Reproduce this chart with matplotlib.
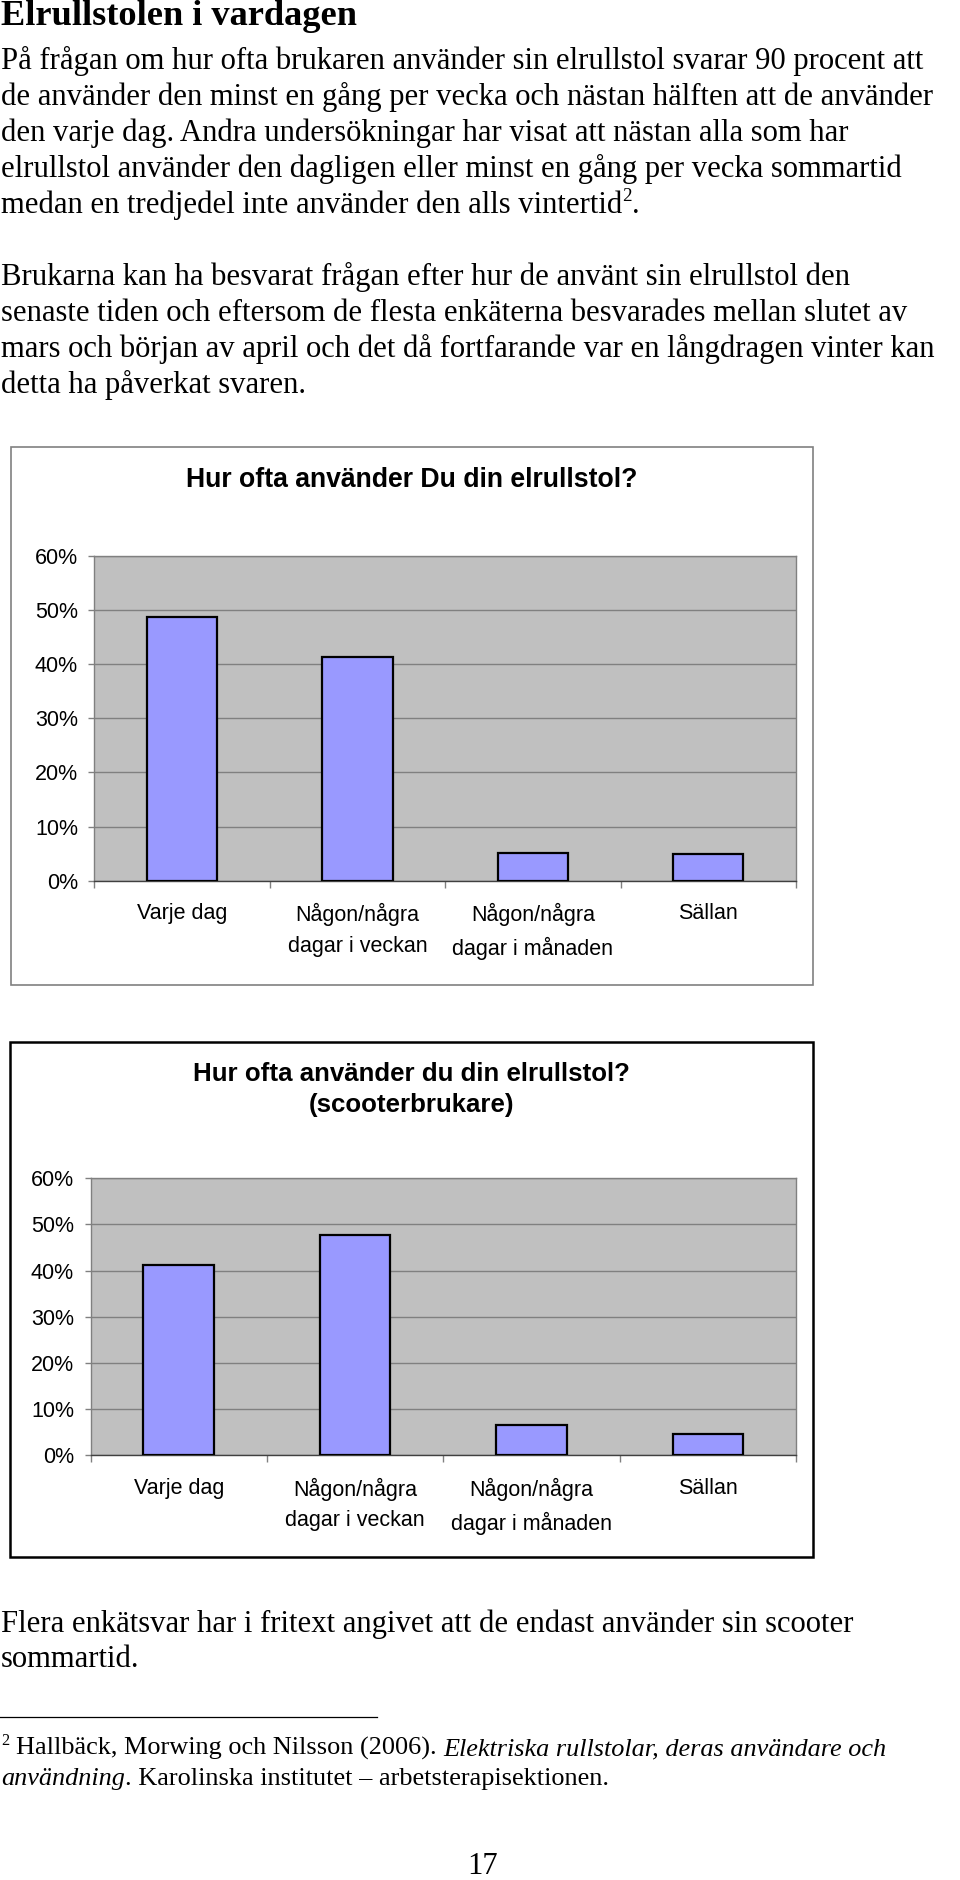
import matplotlib
matplotlib.use("Agg")
import matplotlib.pyplot as plt
from matplotlib.transforms import IdentityTransform
from matplotlib.patches import Rectangle
from matplotlib.lines import Line2D
from matplotlib.ticker import FuncFormatter

# ---------------- data ----------------
heading = "Elrullstolen i vardagen"
para1 = [
    "På frågan om hur ofta brukaren använder sin elrullstol svarar 90 procent att",
    "de använder den minst en gång per vecka och nästan hälften att de använder",
    "den varje dag. Andra undersökningar har visat att nästan alla som har",
    "elrullstol använder den dagligen eller minst en gång per vecka sommartid",
    "medan en tredjedel inte använder den alls vintertid",
]
para2 = [
    "Brukarna kan ha besvarat frågan efter hur de använt sin elrullstol den",
    "senaste tiden och eftersom de flesta enkäterna besvarades mellan slutet av",
    "mars och början av april och det då fortfarande var en långdragen vinter kan",
    "detta ha påverkat svaren.",
]
after_text = [
    "Flera enkätsvar har i fritext angivet att de endast använder sin scooter",
    "sommartid.",
]
footnote_mark = "2"
footnote_plain = "Hallbäck, Morwing och Nilsson (2006)."
footnote_italic1 = "Elektriska rullstolar, deras användare och"
footnote_italic2 = "användning"
footnote_rest = ". Karolinska institutet – arbetsterapisektionen."
page_number = "17"

categories = ["Varje dag", "Någon/några\ndagar i veckan",
              "Någon/några\ndagar i månaden", "Sällan"]
chart1_title = "Hur ofta använder Du din elrullstol?"
chart1_values = [48.8, 41.3, 5.2, 4.9]
chart2_title = "Hur ofta använder du din elrullstol?\n(scooterbrukare)"
chart2_values = [41.1, 47.7, 6.6, 4.6]
y_ticks = [0, 10, 20, 30, 40, 50, 60]

# ---------------- layout ----------------
W, H, DPI = 960, 1880, 100
fig = plt.figure(figsize=(W / DPI, H / DPI), dpi=DPI)
fig.patch.set_facecolor("white")
renderer = fig.canvas.get_renderer()
ID = IdentityTransform()
SERIF = ["Liberation Serif", "DejaVu Serif"]
SANS = ["Liberation Sans", "DejaVu Sans"]


def Y(y):
    return H - y


def put(x, y, s, size, family=SERIF, **kw):
    return fig.text(x, Y(y), s, transform=ID, fontsize=size, family=family,
                    va="baseline", ha=kw.pop("ha", "left"), **kw)


def wid(t):
    return t.get_window_extent(renderer).width


def fit(s, target, base=20.0, **kw):
    t = put(0, 0, s, base, **kw)
    w = wid(t)
    t.remove()
    return base * target / w


def space_w(size, **kw):
    a = put(0, 0, "x x", size, **kw)
    b = put(0, 0, "xx", size, **kw)
    w = wid(a) - wid(b)
    a.remove(); b.remove()
    return w


def runs(x, y, segs, size):
    """segs: list of (text, kind) where kind in normal/italic/sup/space"""
    for s, kind in segs:
        if kind == "space":
            x += space_w(size)
            continue
        if kind == "sup":
            t = put(x, y - 0.38 * size * DPI / 72, s, size * 0.62)
        elif kind == "italic":
            t = put(x, y, s, size, style="italic")
        else:
            t = put(x, y, s, size)
        x += wid(t)
    return x


# heading
hs = fit(heading, 356, fontweight="bold")
put(1, 25, heading, hs, fontweight="bold")

# body
bs = fit(para1[0], 922)
for i, line in enumerate(para1):
    yb = 69 + i * 36
    if i == len(para1) - 1:
        runs(1, yb, [(line, "normal"), ("2", "sup"), (".", "normal")], bs)
    else:
        put(1, yb, line, bs)
for i, line in enumerate(para2):
    put(1, 285 + i * 36, line, bs)


# ---------------- charts ----------------
def chart(box, plot, title, title_base, title_size, values, box_color, box_lw):
    bx0, by0, bx1, by1 = box
    fig.add_artist(Rectangle((bx0 / W, 1 - by1 / H), (bx1 - bx0) / W,
                             (by1 - by0) / H, transform=fig.transFigure,
                             fill=False, edgecolor=box_color,
                             linewidth=box_lw, zorder=0))
    px0, py0, px1, py1 = plot
    ax = fig.add_axes([px0 / W, 1 - py1 / H, (px1 - px0) / W,
                       (py1 - py0) / H])
    ax.set_facecolor("#C0C0C0")
    xs = list(range(len(categories)))
    ax.bar(xs, values, width=0.4, color="#9999FF", edgecolor="black",
           linewidth=1.6, zorder=3)
    ax.set_xlim(-0.5, len(categories) - 0.5)
    ax.set_ylim(0, 60)
    ax.set_yticks(y_ticks)
    ax.yaxis.set_major_formatter(FuncFormatter(lambda v, p: f"{v:.0f}%"))
    ax.grid(axis="y", color="#808080", linewidth=1.0, zorder=1)
    ax.set_axisbelow(True)
    ax.set_xticks(xs)
    ax.set_xticklabels(categories, fontsize=15.5, family=SANS,
                       linespacing=1.6)
    ax.set_xticks([i - 0.5 for i in range(len(categories) + 1)], minor=True)
    ax.tick_params(axis="x", which="major", length=0, pad=16.3)
    ax.tick_params(axis="x", which="minor", length=5, color="#808080",
                   width=1)
    ax.tick_params(axis="y", length=4.3, color="#808080", width=1, pad=7.5,
                   labelsize=15.5)
    for lab in ax.get_yticklabels():
        lab.set_family(SANS)
    for sp in ax.spines.values():
        sp.set_color("#808080")
        sp.set_linewidth(1.0)
    ax.spines["bottom"].set_color("#404040")
    cx = (bx0 + bx1) / 2
    for j, tl in enumerate(title.split("\n")):
        put(cx, title_base + j * 31, tl, title_size, family=SANS,
            fontweight="bold", ha="center")
    return ax


chart((11, 447, 813, 985), (94.3, 556, 796, 880.7), chart1_title, 487, 19.2,
      chart1_values, "#808080", 1.2)
chart((9.5, 1041.5, 813, 1557), (90.5, 1178.3, 796, 1455), chart2_title,
      1081, 18.6, chart2_values, "black", 1.8)

# ---------------- after text & footnote ----------------
for i, line in enumerate(after_text):
    put(1, 1632 + i * 35, line, bs)

fig.add_artist(Line2D([0, 377 / W], [1 - 1717 / H, 1 - 1717 / H],
                      transform=fig.transFigure, color="black",
                      linewidth=0.9))

# fit footnote size to reference width of first line
fs = 16.5
probe = fig.texts[:]
end = runs(1, 1755, [(footnote_mark, "sup"), ("", "space"),
                     (footnote_plain, "normal"), ("", "space"),
                     (footnote_italic1, "italic")], fs)
for t in fig.texts[len(probe):]:
    t.remove()
fs = fs * 886 / (end - 1)
runs(1, 1755, [(footnote_mark, "sup"), ("", "space"),
               (footnote_plain, "normal"), ("", "space"),
               (footnote_italic1, "italic")], fs)
runs(1, 1785, [(footnote_italic2, "italic"), (footnote_rest, "normal")], fs)

put(483, 1874, page_number, bs, ha="center")

fig.savefig("out.png", dpi=DPI, facecolor="white")
